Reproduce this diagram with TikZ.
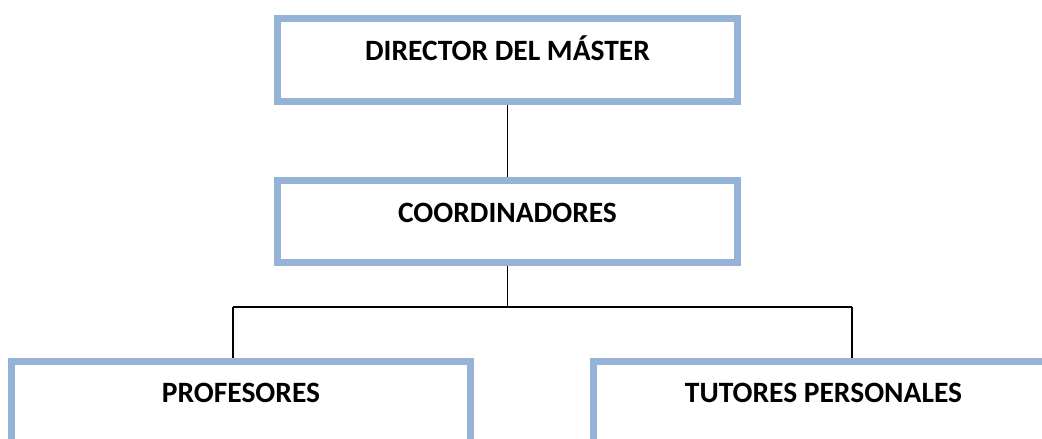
\documentclass[tikz,border=0pt]{standalone}
\usepackage{fontspec}
\setmainfont{Carlito}
\definecolor{boxblue}{HTML}{95B3D7}
\begin{document}
\begin{tikzpicture}[x=1pt,y=-1pt,
  orgbox/.style={draw=boxblue, line width=7pt, rectangle, inner sep=0pt,
    font=\fontsize{29.5}{30}\selectfont\bfseries, text height=19pt, text depth=18pt},
  link/.style={draw=black, line width=1.6pt}]
\useasboundingbox (0,0) rectangle (1042,439);
\clip (0,0) rectangle (1042,439);
\node[orgbox, minimum width=460pt, minimum height=82.5pt] (dir) at (507.5,59.75) {DIRECTOR DEL MÁSTER};
\node[orgbox, minimum width=460pt, minimum height=82pt] (coord) at (507.5,221.5) {COORDINADORES};
\node[orgbox, minimum width=459pt, minimum height=82pt] (prof) at (241,402) {PROFESORES};
\node[orgbox, minimum width=460pt, minimum height=82pt] (tut) at (823.5,402) {TUTORES PERSONALES};
\coordinate (lj) at (233,307);
\coordinate (rj) at (852,307);
\draw[link] (dir.south) -- (coord.north);
\draw[link] (coord.south) -- (coord.south |- lj);
\draw[link] (lj) -- (rj);
\draw[link] (lj) -- (lj |- prof.north);
\draw[link] (rj) -- (rj |- tut.north);
\end{tikzpicture}
\end{document}
